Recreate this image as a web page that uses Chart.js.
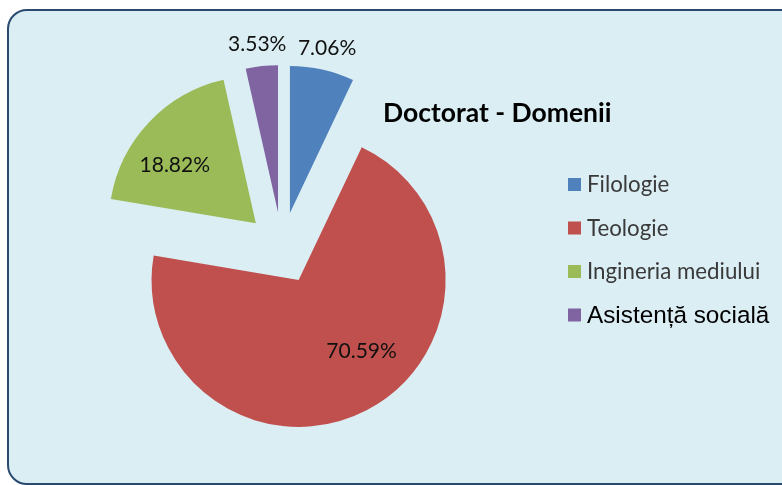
<!DOCTYPE html>
<html>
<head>
<meta charset="utf-8">
<script src="https://cdn.jsdelivr.net/npm/chart.js@4.4.1/dist/chart.umd.min.js"></script>
<style>
  html, body { margin: 0; padding: 0; background: #ffffff; }
  body { width: 782px; height: 485px; position: relative; overflow: hidden; }
  .frame {
    position: absolute; left: 7px; top: 9px; width: 800px; height: 472px;
    background: #dbeef4; border: 2px solid #2b4a70; border-radius: 20px;
  }
  .wrap { position: absolute; left: 0; top: 0; width: 782px; height: 485px; }
</style>
</head>
<body>
<div class="frame"></div>
<div class="wrap"><canvas id="pieChart"></canvas></div>
<script>
// data
const domains = ['Filologie', 'Teologie', 'Ingineria mediului', 'Asistență socială'];
const students = [6, 60, 16, 3];
const sliceColors = ['#4f81bd', '#c0504d', '#9bbb59', '#8064a2'];
const chartTitle = 'Doctorat - Domenii';

// label placement (fraction of radius, angle nudge in degrees)
const labelRadius = [1.15, 0.646, 0.68, 1.15];
const labelNudge = [0, -14, -7.6, -0.7];
const explode = 36;

document.addEventListener('DOMContentLoaded', function() {
    // pull every slice out from the centre along its middle angle
    const explodePlugin = {
        id: 'explode',
        afterDatasetsUpdate(chart) {
            chart.getDatasetMeta(0).data.forEach(function(arc) {
                const mid = (arc.startAngle + arc.endAngle) / 2;
                arc.x += Math.cos(mid) * explode;
                arc.y += Math.sin(mid) * explode;
            });
        }
    };

    // percentage labels
    const percentPlugin = {
        id: 'percentLabels',
        afterDatasetsDraw(chart) {
            const ctx = chart.ctx;
            const values = chart.data.datasets[0].data;
            const total = values.reduce((a, b) => a + b, 0);
            ctx.save();
            ctx.font = '21px Lato';
            ctx.fillStyle = '#111111';
            ctx.textAlign = 'center';
            ctx.textBaseline = 'middle';
            chart.getDatasetMeta(0).data.forEach(function(arc, i) {
                const p = arc.getProps(['x', 'y', 'startAngle', 'endAngle', 'outerRadius'], true);
                const mid = (p.startAngle + p.endAngle) / 2 + labelNudge[i] * Math.PI / 180;
                const r = p.outerRadius * labelRadius[i];
                const text = (values[i] / total * 100).toFixed(2) + '%';
                ctx.fillText(text, p.x + Math.cos(mid) * r, p.y + Math.sin(mid) * r);
            });
            ctx.restore();
        }
    };

    // title and legend on the right
    const sideLegendPlugin = {
        id: 'sideLegend',
        afterDraw(chart) {
            const ctx = chart.ctx;
            ctx.save();
            ctx.font = 'bold 26.5px Lato';
            ctx.fillStyle = '#000000';
            ctx.textAlign = 'left';
            ctx.textBaseline = 'alphabetic';
            ctx.fillText(chartTitle, 383, 122);

            const colors = chart.data.datasets[0].backgroundColor;
            chart.data.labels.forEach(function(label, i) {
                const cy = 184.5 + i * 43.5;
                ctx.fillStyle = colors[i];
                ctx.fillRect(568, cy - 6.5, 13, 13);
                if (i === chart.data.labels.length - 1) {
                    ctx.font = '24.3px "Liberation Sans"';
                    ctx.fillStyle = '#000000';
                } else {
                    ctx.font = '22.3px Lato';
                    ctx.fillStyle = '#3a3a3a';
                }
                ctx.fillText(label, 587, cy + 7.5);
            });
            ctx.restore();
        }
    };

    const ctx = document.getElementById('pieChart').getContext('2d');
    const pieChart = new Chart(ctx, {
        type: 'pie',
        data: {
            labels: domains,
            datasets: [{
                data: students,
                backgroundColor: sliceColors,
                borderWidth: 0
            }]
        },
        options: {
            responsive: true,
            maintainAspectRatio: false,
            animation: false,
            radius: 147,
            layout: {
                padding: { left: 20, right: 238, top: 20, bottom: 9 }
            },
            plugins: {
                legend: { display: false },
                tooltip: { enabled: false }
            }
        },
        plugins: [explodePlugin, percentPlugin, sideLegendPlugin]
    });
});
</script>
</body>
</html>
